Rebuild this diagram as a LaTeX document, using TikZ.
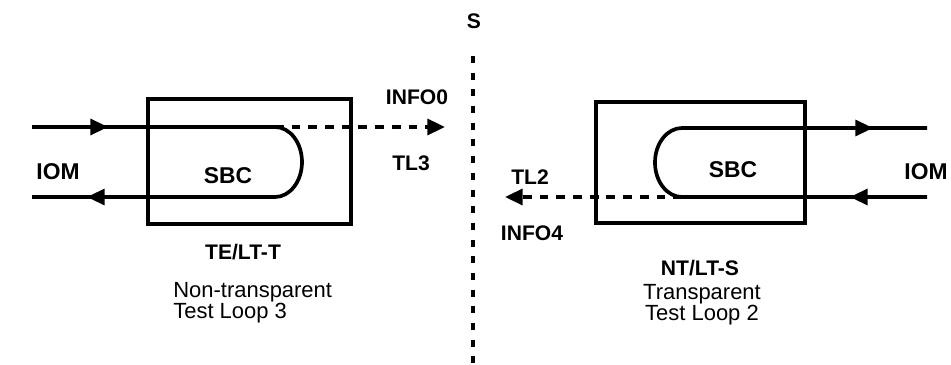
\documentclass[tikz,border=0pt]{standalone}
\usepackage{fontspec}
\setmainfont{Liberation Sans}
\usetikzlibrary{arrows.meta}

\begin{document}
\begin{tikzpicture}[x=0.02cm,y=-0.02cm,
 box/.style={draw,line width=2.1pt},
 wire/.style={line width=2.1pt},
 arr/.style={line width=2.1pt,-{Triangle[length=10pt,width=9pt]}},
 dashwire/.style={arr,dash pattern=on 5pt off 4.5pt},
 sline/.style={line width=2.1pt,dash pattern=on 4pt off 5.5pt},
 lab/.style={font=\fontsize{12}{14}\selectfont\bfseries,inner sep=0pt},
 big/.style={font=\fontsize{13}{15}\selectfont\bfseries,inner sep=0pt},
 captext/.style={font=\fontsize{12.5}{15}\selectfont,inner sep=0pt}]
\useasboundingbox (0,0) rectangle (951,365);
\node[box,minimum width=4.06cm,minimum height=2.5cm] (tebox) at (249.5,161.5) {};
\node[box,minimum width=4.18cm,minimum height=2.42cm] (ntbox) at (700.5,162.5) {};
\coordinate (tein) at (32,127);
\coordinate (teout) at (32,197);
\coordinate (teloop) at (275,127);
\coordinate (tebend) at (275,197);
\coordinate (teinA) at (108,127);
\coordinate (teoutA) at (87,197);
\coordinate (tl3tip) at (445,127);
\draw[wire] (tein) -- (teloop) arc[start angle=-90,end angle=90,x radius=27,y radius=35] -- (teout);
\draw[arr] (tein) -- (teinA);
\draw[arr] (tebend) -- (teoutA);
\draw[dashwire] (teloop) -- (tl3tip);
\coordinate (ntup) at (927,128);
\coordinate (ntdown) at (927,197);
\coordinate (ntloop) at (682,128);
\coordinate (ntbend) at (682,197);
\coordinate (ntupA) at (873,128);
\coordinate (ntdownA) at (850,197);
\coordinate (tl2tip) at (505,197);
\draw[wire] (ntup) -- (ntloop) arc[start angle=-90,end angle=-270,x radius=27,y radius=34.5] -- (ntdown);
\draw[arr] (ntloop) -- (ntupA);
\draw[arr] (ntdown) -- (ntdownA);
\draw[dashwire] (ntbend) -- (tl2tip);
\node[lab] (s) at (474,21) {S};
\coordinate (stop) at (473,56);
\coordinate (sbot) at (473,365);
\draw[sline] (stop) -- (sbot);
\node[lab] (info0) at (417,97) {INFO0};
\node[lab] (tl3) at (411,163) {TL3};
\node[lab] (tl2) at (530,177) {TL2};
\node[lab] (info4) at (532,233) {INFO4};
\node[big] (teiom) at (58,172) {IOM};
\node[big] (ntiom) at (926,172) {IOM};
\node[big] (tesbc) at (228,176) {SBC};
\node[big] (ntsbc) at (733,170) {SBC};
\node[lab] (tename) at (243,252) {TE/LT-T};
\node[lab] (ntname) at (700,268) {NT/LT-S};
\node[captext,align=left,anchor=north west] (tecap) at (173,282) {Non-transparent\\[-2.9pt]Test Loop 3};
\node[captext,align=center,anchor=north] (ntcap) at (702,284) {Transparent\\[-2.9pt]Test Loop 2};
\end{tikzpicture}
\end{document}
